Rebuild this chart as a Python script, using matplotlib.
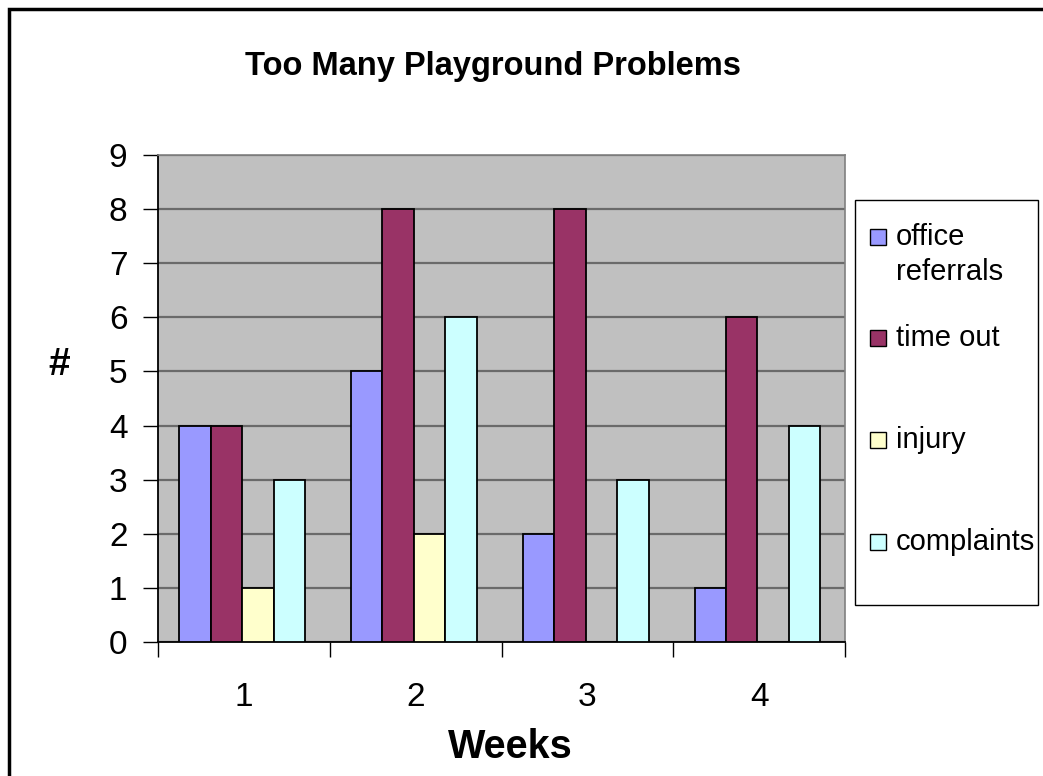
import matplotlib
matplotlib.use("Agg")
import matplotlib.pyplot as plt
from matplotlib.patches import Rectangle
import numpy as np

plt.rcParams['font.family'] = ['Liberation Sans', 'DejaVu Sans']

weeks = ["1", "2", "3", "4"]
series_names = ["office\nreferrals", "time out", "injury", "complaints"]
office_referrals = [4, 5, 2, 1]
time_out = [4, 8, 8, 6]
injury = [1, 2, 0, 0]
complaints = [3, 6, 3, 4]
colors = ["#9999FF", "#993366", "#FFFFCC", "#CCFFFF"]
y_ticks = list(range(0, 10))

W, H = 1043, 776
fig = plt.figure(figsize=(W / 100, H / 100), dpi=100)
fig.patch.set_facecolor("white")


def fx(px):
    return px / W


def fy(py):
    return 1 - py / H


# outer border (only top and left visible in the reference)
fig.patches.append(Rectangle((fx(9), fy(H + 50)), 2, fy(9) - fy(H + 50),
                             transform=fig.transFigure, fill=False,
                             edgecolor="black", linewidth=2.5, zorder=0))

ax = fig.add_axes([fx(158), fy(642), (845 - 158) / W, (642 - 155) / H])
ax.set_facecolor("#C0C0C0")

x = np.arange(len(weeks))
bw = 0.183
data = [office_referrals, time_out, injury, complaints]
for i, (vals, c) in enumerate(zip(data, colors)):
    ax.bar(x + (i - 1.5) * bw - 0.01, vals, width=bw, color=c, edgecolor="black",
           linewidth=1.3, zorder=3)

ax.set_xlim(-0.5, len(weeks) - 0.5)
ax.set_ylim(0, 9)
ax.set_yticks(y_ticks)
ax.yaxis.grid(True, color="#6a6a6a", linewidth=1.6, zorder=1)
ax.set_axisbelow(True)
ax.tick_params(axis="y", direction="out", length=11, width=1, labelsize=24, pad=11)
ax.set_xticks(x)
ax.set_xticklabels(weeks)
ax.set_xticks(np.arange(-0.5, len(weeks)), minor=True)
ax.tick_params(axis="x", which="major", length=0, labelsize=24, pad=29)
ax.tick_params(axis="x", which="minor", direction="out", length=11, width=1)

for s in ["top", "right"]:
    ax.spines[s].set_color("#808080")
    ax.spines[s].set_linewidth(1.2)
for s in ["left", "bottom"]:
    ax.spines[s].set_color("black")
    ax.spines[s].set_linewidth(1.3)

fig.text(fx(493), fy(66), "Too Many Playground Problems",
         ha="center", va="center", fontsize=23.5, fontweight="bold")
fig.text(fx(510), fy(747), "Weeks", ha="center", va="center",
         fontsize=28.5, fontweight="bold")
fig.text(fx(59), fy(365), "#", ha="center", va="center",
         fontsize=28, fontweight="bold")

# legend box drawn manually to match layout
fig.patches.append(Rectangle((fx(855), fy(605)), (1038 - 855) / W, (605 - 200) / H,
                             transform=fig.transFigure, facecolor="white",
                             edgecolor="black", linewidth=1.0, zorder=2))
row_y = [237, 338, 440, 542]
for name, c, yy in zip(series_names, colors, row_y):
    fig.patches.append(Rectangle((fx(870), fy(yy + 8)), 16 / W, 16 / H,
                                 transform=fig.transFigure, facecolor=c,
                                 edgecolor="black", linewidth=1.0, zorder=3))
    lines = name.split("\n")
    for k, ln in enumerate(lines):
        fig.text(fx(896), fy(yy + 35 * k), ln, ha="left", va="center",
                 fontsize=21, zorder=4)

fig.savefig("out.png", dpi=100)
